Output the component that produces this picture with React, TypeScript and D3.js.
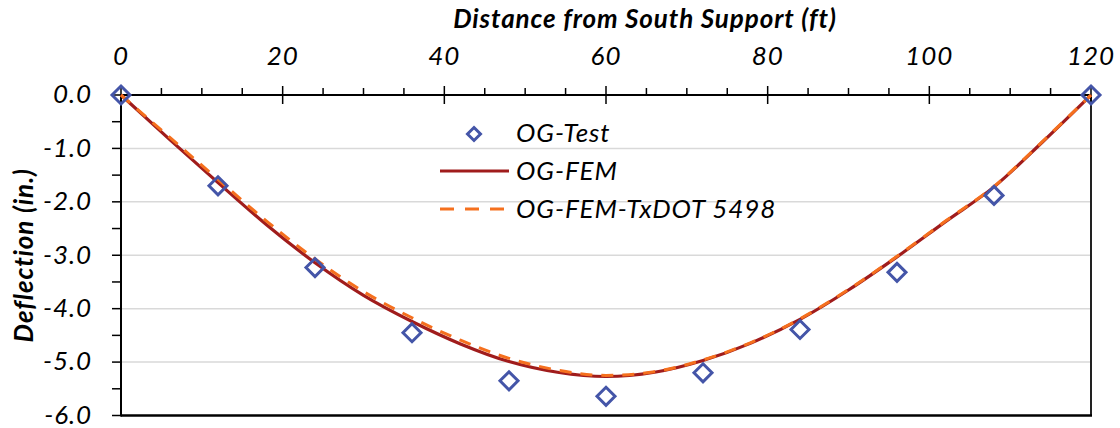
import React from 'react';
import * as d3 from 'd3';

// ---- data ----
const distanceTicks = [0, 20, 40, 60, 80, 100, 120];
const deflectionTicks = [0, -1, -2, -3, -4, -5, -6];
const seriesNames = ['OG-Test', 'OG-FEM', 'OG-FEM-TxDOT 5498'];

const testDistance = [0, 12, 24, 36, 48, 60, 72, 84, 96, 108, 120];
const testDeflection = [0, -1.7, -3.23, -4.45, -5.35, -5.64, -5.2, -4.39, -3.32, -1.88, 0];

const femDistance = [0, 6, 12, 18, 24, 30, 36, 42, 48, 54, 60, 66, 72, 78, 84, 90, 96, 102, 108, 114, 120];
const femDeflection = [0, -0.83, -1.64, -2.43, -3.14, -3.75, -4.24, -4.66, -4.99, -5.19, -5.27, -5.19, -4.97, -4.64, -4.2, -3.65, -3.03, -2.37, -1.72, -0.88, 0];
const txdotDeflection = [0, -0.79, -1.58, -2.36, -3.07, -3.68, -4.17, -4.59, -4.93, -5.15, -5.25, -5.18, -4.96, -4.63, -4.19, -3.64, -3.02, -2.36, -1.71, -0.87, 0];

const W = 1120;
const H = 428;
const FONT = 'Lato, "Open Sans", sans-serif';
const FS = 26;
const LS = 0.9;
const BLUE = '#4455A8';
const RED = '#A01C1C';
const ORANGE = '#F5701E';

export default function App() {
  const x = d3.scaleLinear().domain([0, 120]).range([121, 1091]);
  const y = d3.scaleLinear().domain([0, -6]).range([95, 415.5]);

  const line = d3
    .line<[number, number]>()
    .x((d) => x(d[0]))
    .y((d) => y(d[1]))
    .curve(d3.curveMonotoneX);

  const femPts = femDistance.map((d, i) => [d, femDeflection[i]] as [number, number]);
  const txPts = femDistance.map((d, i) => [d, txdotDeflection[i]] as [number, number]);

  const minorX = d3.range(0, 121, 5).filter((v) => v % 20 !== 0);
  const yTicksAll = d3.range(0, -6.01, -0.5);
  const [x0, x1] = x.range();
  const [y0, y1] = y.range();

  const diamond = (cx: number, cy: number, r: number) =>
    `M${cx},${cy - r}L${cx + r},${cy}L${cx},${cy + r}L${cx - r},${cy}Z`;

  return (
    <svg
      width={W}
      height={H}
      style={{ position: 'absolute', left: 0, top: 0, background: '#fff' }}
      fontFamily={FONT}
      letterSpacing={LS}
    >
      <rect width={W} height={H} fill="#fff" />
      {/* gridlines */}
      {deflectionTicks
        .filter((v) => v !== 0 && v !== -6)
        .map((v) => (
          <line key={'g' + v} x1={x0} x2={x1} y1={y(v)} y2={y(v)} stroke="#D9D9D9" strokeWidth={1.5} />
        ))}

      {/* plot border right and bottom */}
      <line x1={x1} x2={x1} y1={y0} y2={y1} stroke="#222" strokeWidth={2} />
      <line x1={x0} x2={x1 + 1} y1={y1} y2={y1} stroke="#000" strokeWidth={2.5} />

      {/* y axis */}
      <line x1={x0} x2={x0} y1={y0} y2={y1 + 1} stroke="#000" strokeWidth={2} />
      {yTicksAll.map((v) => (
        <line key={'yt' + v} x1={x0 - 9} x2={x0} y1={y(v)} y2={y(v)} stroke="#000" strokeWidth={1.5} />
      ))}
      {deflectionTicks.map((v) => (
        <text
          key={'yl' + v}
          x={92}
          y={y(v)}
          dy="0.32em"
          textAnchor="end"
          fontSize={FS}
          fontStyle="italic"
          fill="#000"
        >
          {v.toFixed(1)}
        </text>
      ))}
      <text
        transform={`translate(33,${(y0 + y1) / 2}) rotate(-90)`}
        textAnchor="middle"
        fontSize={FS}
        fontStyle="italic"
        fontWeight="bold"
        fill="#000"
      >
        Deflection (in.)
      </text>

      {/* x axis (top) */}
      <line x1={x0} x2={x1} y1={y0} y2={y0} stroke="#000" strokeWidth={2} />
      {minorX.map((v) => (
        <line key={'xm' + v} x1={x(v)} x2={x(v)} y1={y0 - 7} y2={y0} stroke="#000" strokeWidth={1.5} />
      ))}
      {distanceTicks.map((v) => (
        <line key={'xt' + v} x1={x(v)} x2={x(v)} y1={y0 - 9} y2={y0 + 9} stroke="#000" strokeWidth={1.5} />
      ))}
      {distanceTicks.map((v) => (
        <text key={'xl' + v} x={x(v)} y={65} textAnchor="middle" fontSize={FS} fontStyle="italic" fill="#000">
          {v}
        </text>
      ))}
      <text x={645} y={28} textAnchor="middle" fontSize={FS} fontStyle="italic" fontWeight="bold" fill="#000">
        Distance from South Support (ft)
      </text>

      {/* series */}
      <path d={line(femPts) || ''} fill="none" stroke={RED} strokeWidth={3.2} />
      <path d={line(txPts) || ''} fill="none" stroke={ORANGE} strokeWidth={3} strokeDasharray="12 9" />
      {testDistance.map((d, i) => (
        <path
          key={'m' + i}
          d={diamond(x(d), y(testDeflection[i]), 9)}
          fill="none"
          stroke={BLUE}
          strokeWidth={3}
        />
      ))}

      {/* legend */}
      <path d={diamond(474, 134, 6.5)} fill="none" stroke={BLUE} strokeWidth={3} />
      <text x={516} y={142} fontSize={FS} fontStyle="italic" fill="#000">
        {seriesNames[0]}
      </text>
      <line x1={440} x2={509} y1={171} y2={171} stroke={RED} strokeWidth={3.2} />
      <text x={516} y={180} fontSize={FS} fontStyle="italic" fill="#000">
        {seriesNames[1]}
      </text>
      <line x1={440} x2={509} y1={209} y2={209} stroke={ORANGE} strokeWidth={3} strokeDasharray="14 11" />
      <text x={516} y={218} fontSize={FS} fontStyle="italic" fill="#000">
        {seriesNames[2]}
      </text>
    </svg>
  );
}
